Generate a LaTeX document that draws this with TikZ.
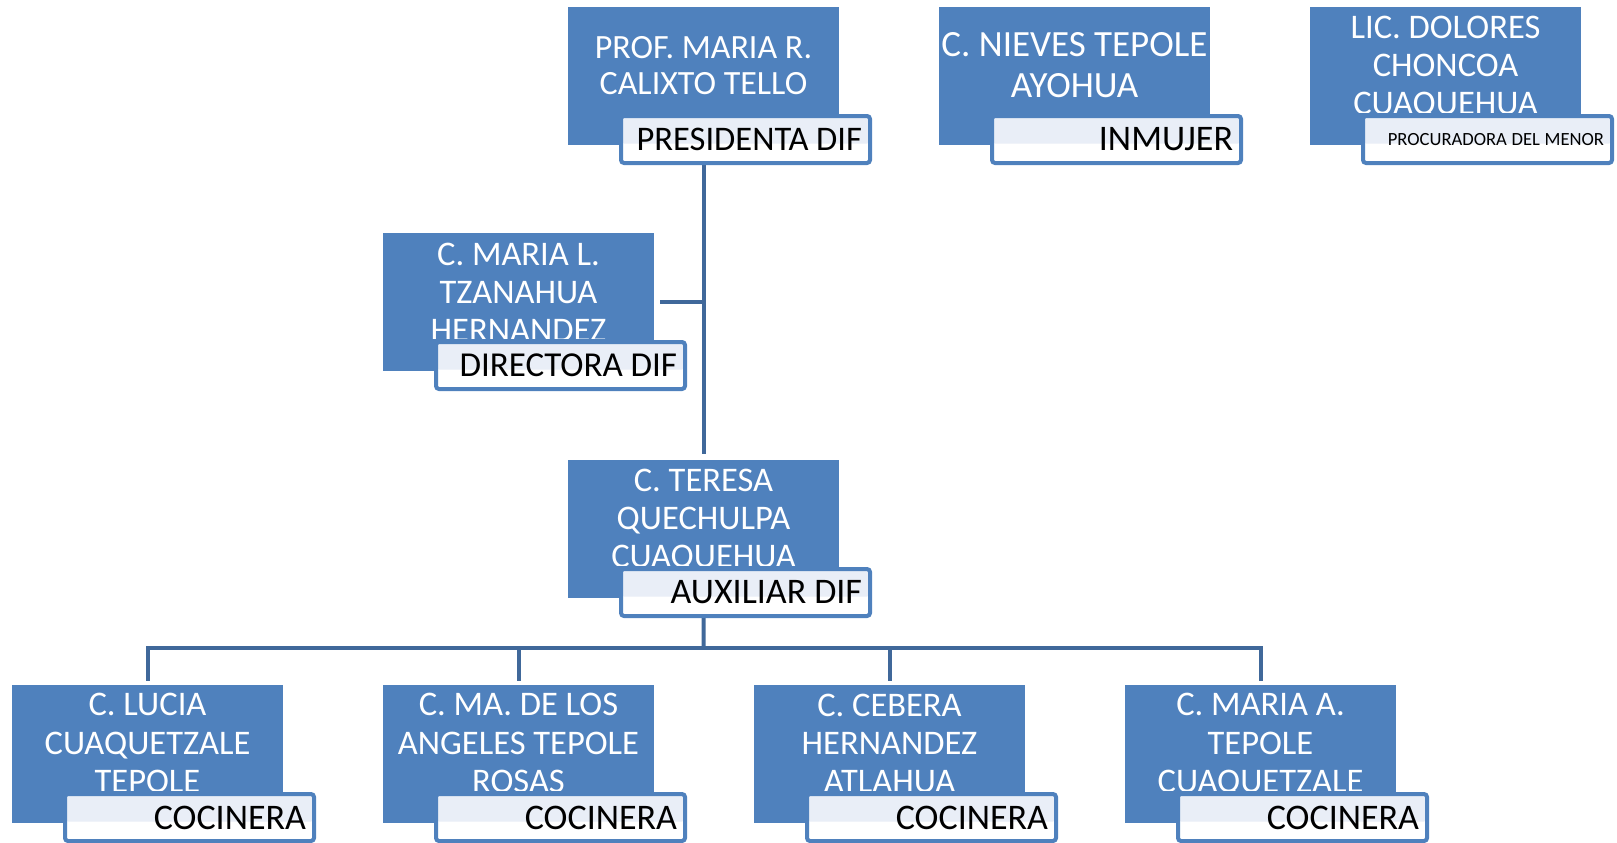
\documentclass[tikz,border=0pt]{standalone}
\usepackage{fontspec}
\setmainfont{Carlito}
\usetikzlibrary{backgrounds,calc}
\definecolor{mainblue}{RGB}{79,129,189}
\definecolor{lightband}{RGB}{233,238,247}
\definecolor{connblue}{RGB}{64,104,154}
\tikzset{
 mainbox/.style={fill=mainblue, draw=none, minimum width=271pt, minimum height=138pt, inner sep=0pt},
 boxtext/.style={text=white, align=center, inner sep=0pt},
 labelbox/.style={draw=mainblue, line width=4pt, fill=white, rounded corners=3pt, minimum width=249pt, minimum height=47pt, text width=233pt, inner xsep=8pt, inner ysep=0pt, align=right,
   path picture={\fill[lightband] (path picture bounding box.north west) rectangle ([yshift=-4pt]path picture bounding box.east);}},
 conn/.style={draw=connblue, line width=4pt},
}
\newcommand\lbl[1]{{\fontsize{36}{40}\selectfont #1}}
\newcommand\wsp{\hspace{0.22em}}
\newcommand\fsmall{\fontsize{34.5}{38.3}\selectfont}
% #1 name, #2 x, #3 y, #4 lines, #5 label, #6 first baseline offset, #7 font
\newcommand\orgunit[7]{%
 \node[mainbox, anchor=north west] (#1) at (#2,#3) {};
 \begin{scope}
  \clip (#2,#3) rectangle ++(271,105);
  \node[boxtext, font=#7, anchor=north] (#1-t) at (#2+135.5,#3+#6-26) {\rule{0pt}{26pt}#4};
 \end{scope}
 \node[labelbox, anchor=north west] (#1-l) at (#2+51,#3+107) {#5};
}
\begin{document}
\begin{tikzpicture}[x=1pt,y=-1pt]
\useasboundingbox (0,0) rectangle (1617,843);
\orgunit{p}{568}{7}{PROF. MARIA R.\\CALIXTO TELLO}{{\fontsize{34.5}{40}\selectfont PRESIDENTA\wsp DIF}}{51}{\fontsize{34}{36.8}\selectfont}
\orgunit{inm}{939}{7}{C. NIEVES TEPOLE\\AYOHUA}{\lbl{INMUJER}}{49}{\fontsize{37}{41.7}\selectfont}
\orgunit{proc}{1310}{7}{LIC. DOLORES\\CHONCOA\\CUAQUEHUA}{{\fontsize{18.6}{22}\selectfont PROCURADORA\hspace{0.25em}DEL\hspace{0.25em}MENOR}}{31}{\fsmall}
\orgunit{dir}{383}{233}{C. MARIA L.\\TZANAHUA\\HERNANDEZ}{{\fontsize{35}{40}\selectfont DIRECTORA\wsp DIF}}{32}{\fsmall}
\orgunit{aux}{568}{460}{C. TERESA\\QUECHULPA\\CUAQUEHUA}{\lbl{AUXILIAR\wsp DIF}}{31}{\fsmall}
\orgunit{c1}{12}{685}{C. LUCIA\\CUAQUETZALE\\TEPOLE}{\lbl{COCINERA}}{30.5}{\fsmall}
\orgunit{c2}{383}{685}{C. MA. DE LOS\\ANGELES TEPOLE\\ROSAS}{\lbl{COCINERA}}{30.5}{\fsmall}
\orgunit{c3}{754}{685}{C. CEBERA\\HERNANDEZ\\ATLAHUA}{\lbl{COCINERA}}{31}{\fsmall}
\orgunit{c4}{1125}{685}{C. MARIA A.\\TEPOLE\\CUAQUETZALE}{\lbl{COCINERA}}{30.5}{\fsmall}
\begin{pgfonlayer}{background}
 \draw[conn] (p-l.south -| p.south) -- ([yshift=6pt]aux.north);
 \draw[conn] ([xshift=6pt]dir.east) -- (dir.east -| p.south);
 \coordinate (bus) at (703.5,648);
 \draw[conn] (aux-l.south -| aux.south) -- (bus);
 \foreach \c in {c1,c2,c3,c4} \draw[conn] (bus) -| ([yshift=4pt]\c.north);
\end{pgfonlayer}
\end{tikzpicture}
\end{document}
